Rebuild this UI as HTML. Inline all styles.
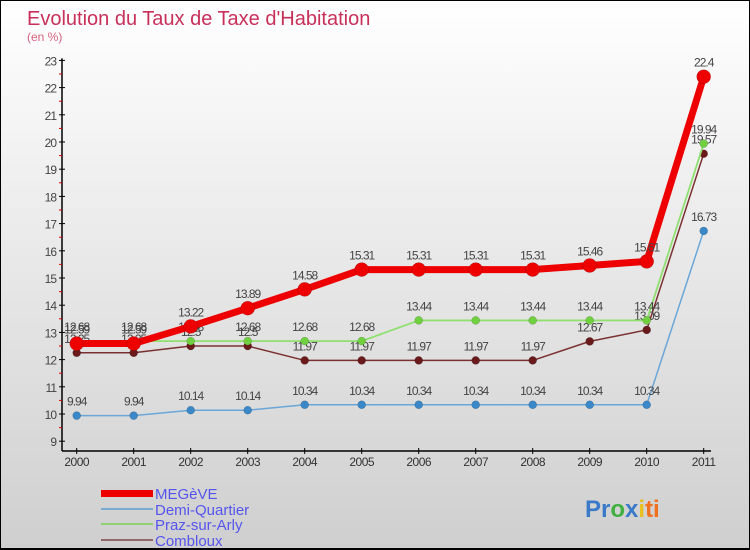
<!DOCTYPE html>
<html><head><meta charset="utf-8"><style>
body{margin:0}
#wrap{width:750px;height:550px;position:relative;box-sizing:border-box;border:1px solid #000;border-bottom:2px solid #000;background:linear-gradient(#ffffff,#cfcfcf);font-family:"Liberation Sans",sans-serif;overflow:hidden}
svg text{font-family:"Liberation Sans",sans-serif}
</style></head><body>
<div id="wrap">
<svg id="c" width="750" height="550">
<text x="26" y="24" font-size="20" fill="#c8305a">Evolution du Taux de Taxe d'Habitation</text>
<text x="26" y="40" font-size="12" fill="#d86080">(en %)</text>
<g id="axes"></g><g id="series"></g>
<g>
<rect x="100" y="489" width="52" height="7" fill="#ee0000"/>
<rect x="100" y="507" width="52" height="2" fill="#7aaad0"/>
<rect x="100" y="522" width="52" height="2" fill="#90d070"/>
<rect x="100" y="538" width="52" height="2" fill="#906868"/>
<text x="154" y="498" font-size="15" fill="#5555ee">MEGèVE</text>
<text x="154" y="514" font-size="15" fill="#5555ee">Demi-Quartier</text>
<text x="154" y="529" font-size="15" fill="#5555ee">Praz-sur-Arly</text>
<text x="154" y="545" font-size="15" fill="#5555ee">Combloux</text>
</g>
<text x="584" y="516" font-size="24" font-weight="bold"><tspan fill="#3a7ac8">Pr</tspan><tspan fill="#40b040">o</tspan><tspan fill="#3a7ac8">x</tspan><tspan fill="#e8c020">i</tspan><tspan fill="#f07020">ti</tspan></text>
</svg>
</div>
<script>
const years=["2000","2001","2002","2003","2004","2005","2006","2007","2008","2009","2010","2011"];
const yTicks=[9,10,11,12,13,14,15,16,17,18,19,20,21,22,23];
const megeve=[12.59,12.59,13.22,13.89,14.58,15.31,15.31,15.31,15.31,15.46,15.61,22.4];
const demi=[9.94,9.94,10.14,10.14,10.34,10.34,10.34,10.34,10.34,10.34,10.34,16.73];
const praz=[12.68,12.68,12.68,12.68,12.68,12.68,13.44,13.44,13.44,13.44,13.44,19.94];
const combloux=[12.25,12.25,12.5,12.5,11.97,11.97,11.97,11.97,11.97,12.67,13.09,19.57];
const NS="http://www.w3.org/2000/svg";
const X=i=>75.7+i*57, Y=v=>413-(v-10)*27.2;
function mk(t,a,p){const e=document.createElementNS(NS,t);for(const k in a)e.setAttribute(k,a[k]);p.appendChild(e);return e;}
const ax=document.getElementById('axes'), se=document.getElementById('series');
let l=mk('line',{x1:61,y1:Y(23)-2,x2:61,y2:450,stroke:'#000','stroke-width':1.5},ax);


l=mk('line',{x1:61,y1:450,x2:710,y2:450,stroke:'#000','stroke-width':1.5},ax);


yTicks.forEach((v,i)=>{
 mk('line',{x1:58,x2:64,y1:Y(v),y2:Y(v),stroke:'#000'},ax);
 if(i<yTicks.length-1) mk('line',{x1:58,x2:61,y1:Y(v+0.5),y2:Y(v+0.5),stroke:'#e00000'},ax);
 const t=mk('text',{x:55,y:Y(v)+5,'text-anchor':'end','font-size':12,fill:'#444','letter-spacing':'-1'},ax);
 t.textContent=v;
 
 
});
years.forEach((y,i)=>{
 mk('line',{x1:X(i),x2:X(i),y1:447,y2:453,stroke:'#000'},ax);
 const t=mk('text',{x:X(i),y:465,'text-anchor':'middle','font-size':12,fill:'#333','letter-spacing':'-0.5'},ax);
 t.textContent=y;
 
 
});
function series(vals,color,lw,r,pcol,name){
 const g=mk('g',{},se);
 
 
 mk('polyline',{points:vals.map((v,i)=>X(i)+','+Y(v)).join(' '),fill:'none',stroke:color,'stroke-width':lw,'stroke-linejoin':'round'},g);
 vals.forEach((v,i)=>{
  const c=mk('circle',{cx:X(i),cy:Y(v),r:r,fill:pcol,stroke:'rgba(0,0,0,0.25)','stroke-width':0.5},g);
  
  
  const t=mk('text',{x:X(i),y:Y(v)-10,'text-anchor':'middle','font-size':12,fill:'#444','letter-spacing':'-1'},g);
  t.textContent=v;
  
  
 });
}
series(demi,'#6aa6d8',1.5,4,'#3a88c8','demi-quartier');
series(combloux,'#7a3030',1.5,4,'#6a1a1a','combloux');
series(praz,'#90e070',1.8,4,'#70d040','praz-sur-arly');
series(megeve,'#ee0000',7,7,'#ee0000','megeve');
</script>
</body></html>
